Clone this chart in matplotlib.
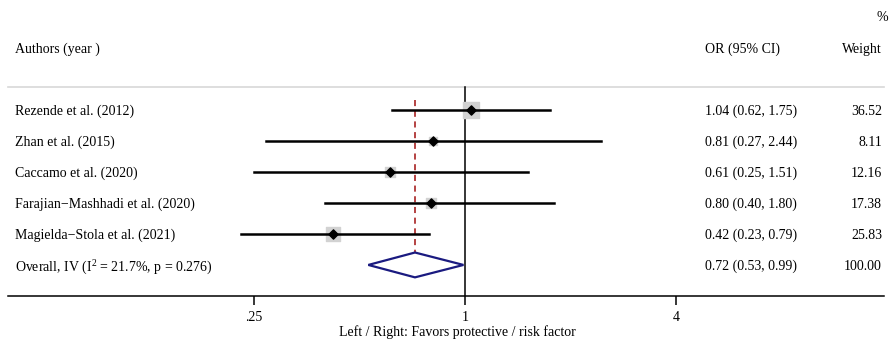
import numpy as np
import matplotlib
matplotlib.use("Agg")
import matplotlib.pyplot as plt

plt.rcParams['font.family'] = ['Liberation Serif', 'DejaVu Serif']
plt.rcParams['mathtext.default'] = 'regular'

# study data
authors = ["Rezende et al. (2012)", "Zhan et al. (2015)", "Caccamo et al. (2020)",
           "Farajian\u2212Mashhadi et al. (2020)", "Magielda\u2212Stola et al. (2021)"]
odds = [1.04, 0.81, 0.61, 0.80, 0.42]
lower = [0.62, 0.27, 0.25, 0.40, 0.23]
upper = [1.75, 2.44, 1.51, 1.80, 0.79]
weights = [36.52, 8.11, 12.16, 17.38, 25.83]

# pooled estimate
pooled_label = "Overall, IV (I$^2$ = 21.7%, p = 0.276)"
pooled = 0.72
pooled_lo = 0.53
pooled_hi = 0.99
pooled_w = 100.00

xticks = [0.25, 1, 4]
xticklabels = [".25", "1", "4"]

W, H = 892, 339
fig = plt.figure(figsize=(W / 100, H / 100), dpi=100)
ax = fig.add_axes([8 / W, 43 / H, 876 / W, 296 / H])
ax.set_xscale('log', base=2)
ax.set_xlim(2 ** -4.33, 2 ** 3.97)
ax.set_ylim(6, -3.53)

fs = 10
va = 'center_baseline'
rows = np.arange(len(authors))
xl, xr = ax.get_xlim()
tx = xl * 1.047      # left text column
cx = 2 ** 2.27       # OR column
wx = xr * 0.987      # weight column (right edge)

# header
ax.text(xr * 1.03, -3, "%", ha='right', va=va, fontsize=fs)
ax.text(tx, -2, "Authors (year )", ha='left', va=va, fontsize=fs)
ax.text(cx, -2, "OR (95% CI)", ha='left', va=va, fontsize=fs)
ax.text(wx, -2, "Weight", ha='right', va=va, fontsize=fs)
ax.plot([xl, xr], [-0.72, -0.72], color='#d8d8d8', lw=1.2, clip_on=False)

# reference lines
ax.plot([1, 1], [-0.72, 6], color='black', lw=1.1)
ax.plot([pooled, pooled], [-0.32, 5.4], color='#a01010', lw=1.1, ls=(0, (4, 3)))

# studies
for i in rows:
    ax.plot([lower[i], upper[i]], [i, i], color='black', lw=1.8, zorder=3)
    ax.scatter(odds[i], i, s=3.6 * weights[i], marker='s', color='#d2d2d2', zorder=2)
    ax.scatter(odds[i], i, s=22, marker='D', color='black', zorder=4)
    ax.text(tx, i, authors[i], ha='left', va=va, fontsize=fs)
    ax.text(cx, i, "%.2f (%.2f, %.2f)" % (odds[i], lower[i], upper[i]),
            ha='left', va=va, fontsize=fs)
    ax.text(wx, i, "%.2f" % weights[i], ha='right', va=va, fontsize=fs)

# pooled diamond
k = len(authors)
ax.fill([pooled_lo, pooled, pooled_hi, pooled], [k, k - 0.4, k, k + 0.4],
        facecolor='white', edgecolor='#1a1a80', lw=1.6, zorder=3)
ax.text(tx, k, pooled_label, ha='left', va=va, fontsize=fs)
ax.text(cx, k, "%.2f (%.2f, %.2f)" % (pooled, pooled_lo, pooled_hi),
        ha='left', va=va, fontsize=fs)
ax.text(wx, k, "%.2f" % pooled_w, ha='right', va=va, fontsize=fs)

for s in ['top', 'left', 'right']:
    ax.spines[s].set_visible(False)
ax.spines['bottom'].set_linewidth(1.1)
ax.set_yticks([])
ax.set_xticks(xticks)
ax.set_xticklabels(xticklabels, fontsize=fs)
ax.minorticks_off()
ax.tick_params(axis='x', length=6.5, width=1.1, pad=4.5)

fig.text(457 / W, 7 / H, "Left / Right: Favors protective / risk factor",
         ha='center', va='center', fontsize=fs)

fig.savefig("out.png", dpi=100)
